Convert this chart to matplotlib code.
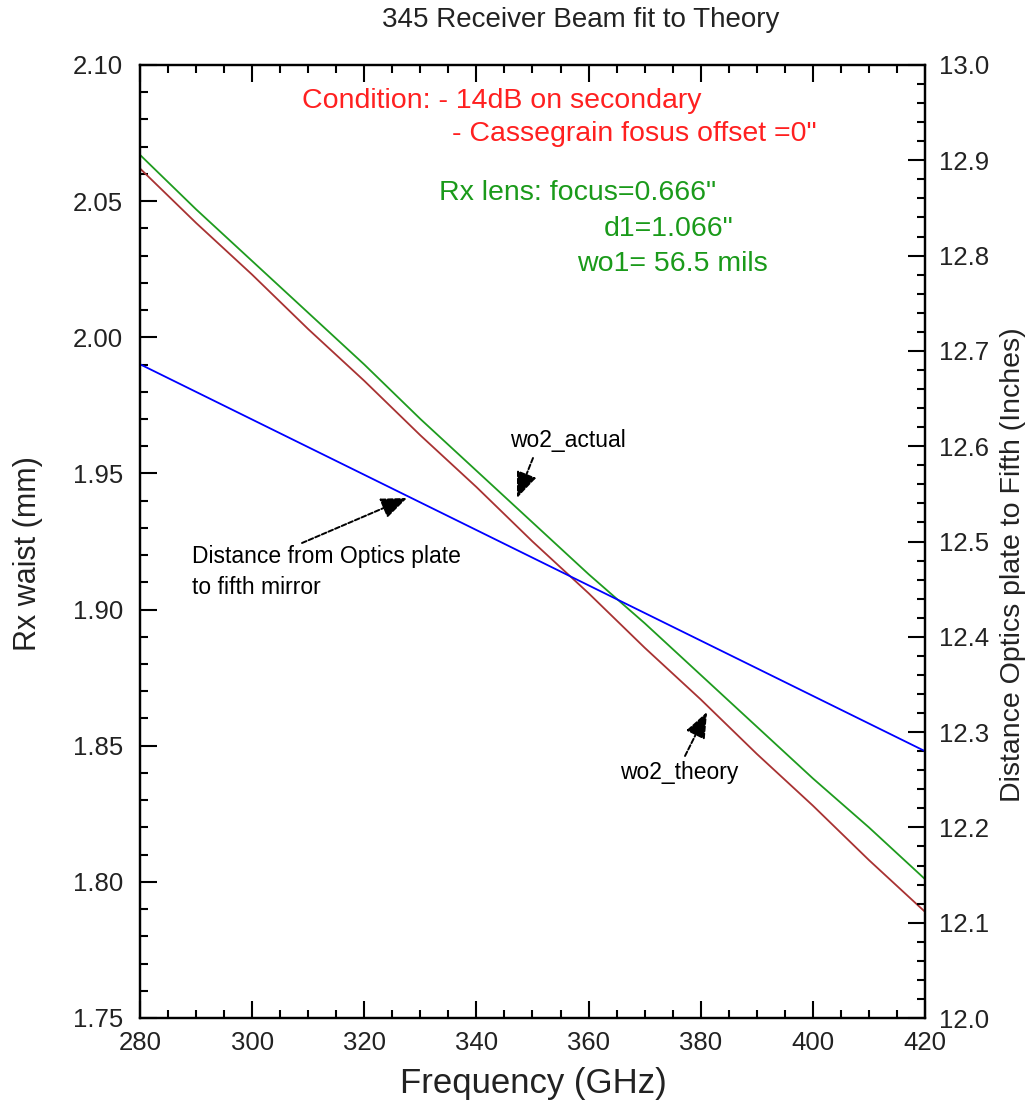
import matplotlib
matplotlib.use("Agg")
import matplotlib.pyplot as plt
from matplotlib.patches import FancyArrowPatch
from matplotlib.ticker import MultipleLocator, FormatStrFormatter

plt.rcParams['font.family'] = ['Liberation Sans', 'DejaVu Sans']

freq = [280, 290, 300, 310, 320, 330, 340, 350, 360, 370, 380, 390, 400, 410, 420]
wo2_actual = [2.067, 2.047, 2.028, 2.009, 1.990, 1.970, 1.951, 1.932, 1.913, 1.895,
              1.876, 1.857, 1.838, 1.820, 1.801]
wo2_theory = [2.062, 2.042, 2.023, 2.003, 1.984, 1.964, 1.945, 1.925, 1.906, 1.886,
              1.867, 1.847, 1.828, 1.808, 1.789]
distance = [12.686, 12.657, 12.628, 12.599, 12.570, 12.541, 12.512, 12.483, 12.454,
            12.425, 12.396, 12.367, 12.338, 12.309, 12.280]

W, H = 1033, 1114
fig = plt.figure(figsize=(W / 100, H / 100), dpi=100)
L, R, T, B = 140, 925, 65, 1018
ax = fig.add_axes([L / W, 1 - B / H, (R - L) / W, (B - T) / H])
ax2 = ax.twinx()

ax.plot(freq, wo2_actual, color='#1E9B1E', lw=1.3)
ax.plot(freq, wo2_theory, color='#A83232', lw=1.3)
ax2.plot(freq, distance, color='#0000FF', lw=1.3)

ax.set_xlim(280, 420)
ax.set_ylim(1.75, 2.10)
ax2.set_ylim(12.0, 13.0)

ax.xaxis.set_major_locator(MultipleLocator(20))
ax.xaxis.set_minor_locator(MultipleLocator(5))
ax.yaxis.set_major_locator(MultipleLocator(0.05))
ax.yaxis.set_minor_locator(MultipleLocator(0.01))
ax.yaxis.set_major_formatter(FormatStrFormatter('%.2f'))
ax2.yaxis.set_major_locator(MultipleLocator(0.1))
ax2.yaxis.set_minor_locator(MultipleLocator(0.02))
ax2.yaxis.set_major_formatter(FormatStrFormatter('%.1f'))

tc = '#222222'
ax.tick_params(axis='x', which='both', direction='in', top=True, labelsize=18.5,
               colors='black', labelcolor=tc, pad=9)
ax.tick_params(axis='y', which='both', direction='in', right=False, labelsize=18.5,
               colors='black', labelcolor=tc, pad=12)
ax.tick_params(which='major', length=12, width=1.5)
ax.tick_params(which='minor', length=6, width=1.5)
ax2.tick_params(axis='y', which='both', direction='in', labelsize=18.5,
                colors='black', labelcolor=tc, pad=10)
ax2.tick_params(which='major', length=12, width=1.5)
ax2.tick_params(which='minor', length=6, width=1.5)
for a in (ax, ax2):
    for s in a.spines.values():
        s.set_linewidth(1.6)


def ptext(x, y, s, **kw):
    fig.text(x / W, 1 - y / H, s, **kw)


# axis labels and title
ptext(533, 1083, 'Frequency (GHz)', fontsize=25, color=tc, ha='center', va='center')
ptext(28, 554, 'Rx waist (mm)', fontsize=22, color=tc, ha='center', va='center',
      rotation=90)
ptext(1013, 565, 'Distance Optics plate to Fifth (Inches)', fontsize=20.5, color=tc,
      ha='center', va='center', rotation=90)
ptext(581, 20, '345 Receiver Beam fit to Theory', fontsize=20, color=tc,
      ha='center', va='center')

red = '#FF2020'
green = '#1A9A1A'
ptext(302, 101, 'Condition: - 14dB on secondary', color=red, fontsize=20.5, va='center')
ptext(452, 134, '- Cassegrain fosus offset =0"', color=red, fontsize=20.5, va='center')
ptext(439, 193, 'Rx lens: focus=0.666"', color=green, fontsize=20.5, va='center')
ptext(604, 229, 'd1=1.066"', color=green, fontsize=20.5, va='center')
ptext(577, 264, 'wo1= 56.5 mils', color=green, fontsize=20.5, va='center')
ptext(192, 557, 'Distance from Optics plate', color='black', fontsize=16.5, va='center')
ptext(192, 588, 'to fifth mirror', color='black', fontsize=16.5, va='center')
ptext(510, 440, 'wo2_actual', color='black', fontsize=16.5, va='center')
ptext(620, 772, 'wo2_theory', color='black', fontsize=16.5, va='center')


def parrow(x0, y0, x1, y1):
    fig.add_artist(FancyArrowPatch(
        (x0 / W, 1 - y0 / H), (x1 / W, 1 - y1 / H), transform=fig.transFigure,
        arrowstyle='-|>,head_length=10,head_width=4', mutation_scale=1.6,
        color='black', lw=1.4, linestyle=(0, (2.5, 1.2)), shrinkA=0, shrinkB=0))


parrow(302, 543, 407, 498)
parrow(533, 458, 517, 498)
parrow(685, 756, 707, 712)

fig.savefig('out.png', dpi=100, facecolor='white')
